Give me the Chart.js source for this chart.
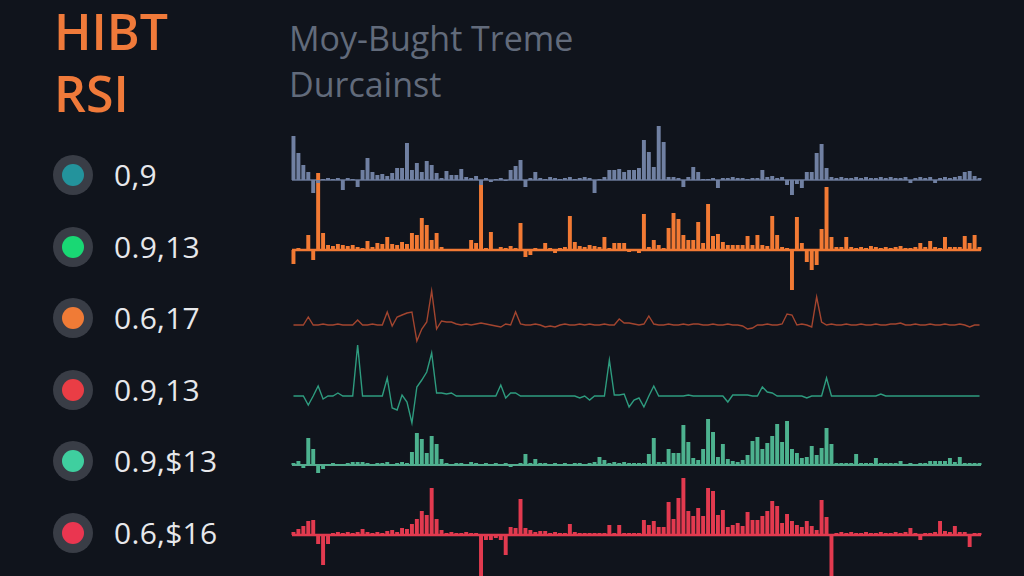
<!DOCTYPE html>
<html>
<head>
<meta charset="utf-8">
<script src="https://cdn.jsdelivr.net/npm/chart.js@4.4.1/dist/chart.umd.min.js"></script>
<style>
  html, body { margin:0; padding:0; width:1024px; height:576px; overflow:hidden; background:#10141c; font-family:"Open Sans","Noto Sans",sans-serif; }
  #title { position:absolute; left:54px; top:0px; color:#f07a3a; font-size:50px; font-weight:600; line-height:62px; white-space:pre; }
  #subtitle { position:absolute; left:289px; top:15px; color:#626b7b; font-size:34px; font-weight:400; line-height:46px; white-space:pre; }
  .lg { position:absolute; left:53px; height:40px; display:flex; align-items:center; }
  .ring { width:40px; height:40px; border-radius:50%; background:#393d46; display:flex; align-items:center; justify-content:center; }
  .dot { width:22px; height:22px; border-radius:50%; }
  .lgtext { margin-left:21px; color:#e7e8eb; font-size:30px; line-height:40px; letter-spacing:0.3px; }
  #chartBox { position:absolute; left:291px; top:105px; width:691px; height:471px; }
</style>
</head>
<body>
<div id="title"></div>
<div id="subtitle"></div>
<div id="legend"></div>
<div id="chartBox"><canvas id="c"></canvas></div>
<script>
// ---- text ----
const titleLines = ["HIBT", "RSI"];
const subtitleLines = ["Moy-Bught Treme", "Durcainst"];
const legendLabels = ["0,9", "0.9,13", "0.6,17", "0.9,13", "0.9,$13", "0.6,$16"];
const legendColors = ["#23939c", "#19d874", "#f07b36", "#ea3d45", "#3fcf9f", "#ea3650"];

// ---- data (one value per time step, 140 steps) ----
const steps = Array.from({length: 140}, (_, i) => String(i + 1));

const seriesSlate = [
  44,27,15,8,-13,-3,1,2,1,2,
  -10,2,1,-7,10,22,8,5,6,4,
  7,12,12,37,10,17,8,19,15,7,
  2,9,5,5,11,3,2,4,-5,2,
  -2,1,2,-1,10,14,20,-7,2,8,
  2,1,3,2,1,2,3,1,2,3,
  2,-13,1,3,10,10,11,8,10,10,
  12,40,28,13,54,38,3,3,2,-7,
  3,13,8,1,1,2,-8,2,2,3,
  2,2,1,2,2,10,3,4,2,3,
  -5,-15,-4,-8,8,8,27,36,12,3,
  2,3,2,2,3,2,3,2,2,3,
  2,3,2,2,3,-3,2,3,2,3,
  -3,2,3,2,3,4,8,9,4,2
];
const seriesOrange = [
  -14,2,1,15,-10,77,17,5,4,6,
  5,4,5,3,2,9,3,7,6,13,
  6,5,8,6,17,15,32,25,10,17,
  3,1,1,0,1,0,10,7,66,2,
  18,1,3,2,4,2,27,-7,-5,2,
  1,7,2,-3,2,3,34,8,4,3,
  5,4,3,13,2,7,7,7,-2,1,
  -3,36,3,10,5,2,22,37,31,15,
  10,10,28,7,46,14,16,8,5,5,
  5,5,14,5,15,5,4,34,15,3,
  2,-40,33,7,-12,-20,-15,21,63,13,
  3,3,13,3,2,3,2,4,3,2,
  3,2,3,4,2,2,3,7,3,9,
  3,2,13,3,3,3,14,7,15,3
];
const seriesRust = [
  0,0,0,8,0,0,1,0,0,1,
  0,0,0,5,0,0,1,0,0,13,
  -1,8,10,12,13,-16,-4,3,34,-4,
  4,3,3,1,0,1,0,1,2,1,
  0,-1,-2,1,0,13,1,0,0,1,
  0,-2,-1,-2,0,1,0,0,1,0,
  1,0,0,1,0,0,6,2,2,1,
  0,1,9,1,0,0,1,0,0,1,
  0,1,1,0,0,1,0,0,1,0,
  0,-1,-4,-3,0,0,1,0,0,1,
  11,10,0,1,0,-2,28,3,0,1,
  0,0,1,0,0,1,0,0,1,0,
  0,1,1,2,0,0,1,0,0,1,
  0,0,1,0,0,1,0,-2,0,0
];
const seriesTeal = [
  0,0,0,-9,0,10,-3,0,0,3,
  0,0,0,51,0,0,0,0,0,18,
  -12,-14,1,-6,-27,9,16,24,43,3,
  3,2,3,0,0,0,0,0,0,0,
  0,0,11,-2,3,3,0,0,0,0,
  0,0,0,0,0,0,0,0,-2,0,
  -4,0,0,0,36,1,1,2,-11,-4,
  -2,-11,0,10,0,0,0,0,0,0,
  1,0,0,0,0,0,0,0,-6,1,
  1,1,1,0,0,9,4,3,0,0,
  0,0,0,0,-2,0,0,0,18,0,
  0,0,0,0,0,0,0,0,0,2,
  0,0,0,0,0,0,0,0,0,0,
  0,0,0,0,0,0,0,0,0,0
];
const seriesMint = [
  2,4,-3,27,16,-8,-4,1,2,1,
  1,2,3,3,3,2,1,2,2,3,
  1,2,3,2,13,32,26,12,29,21,
  6,2,1,2,2,1,3,2,1,2,
  1,2,1,2,-2,1,2,11,2,6,
  2,2,1,2,1,2,1,2,2,1,
  2,3,8,5,2,3,2,3,2,2,
  2,2,11,27,3,3,16,12,12,40,
  23,7,5,16,46,33,8,21,6,4,
  3,5,10,24,28,16,22,29,41,23,
  44,16,12,7,8,19,10,17,37,21,
  2,2,2,2,11,2,2,2,7,2,
  2,2,2,4,1,2,1,2,2,4,
  4,4,4,7,3,8,2,2,2,2
];
const seriesRed = [
  3,6,9,14,15,-9,-30,-9,2,3,
  2,3,2,3,6,3,2,3,2,4,
  5,3,7,6,11,16,24,20,47,16,
  5,2,3,2,2,3,2,2,-41,-5,
  -5,-3,-5,-20,8,7,36,7,5,3,
  4,4,2,3,2,2,11,3,2,2,
  2,2,2,2,10,2,10,2,2,2,
  2,15,10,14,8,8,33,16,37,57,
  24,19,27,19,47,44,20,25,8,10,
  12,9,23,15,15,19,24,34,29,12,
  21,14,10,8,14,9,5,35,18,-41,
  2,3,2,3,2,2,3,2,2,3,
  2,2,3,2,3,7,2,-5,2,2,
  3,14,4,3,9,3,3,-12,2,2
];

// ---- text layout ----
document.getElementById('title').textContent = titleLines.join('\n');
document.getElementById('subtitle').textContent = subtitleLines.join('\n');
const lg = document.getElementById('legend');
legendLabels.forEach((lab, k) => {
  const row = document.createElement('div');
  row.className = 'lg';
  row.style.top = (155 + k * 71.6) + 'px';
  const ring = document.createElement('div'); ring.className = 'ring';
  const dot = document.createElement('div'); dot.className = 'dot'; dot.style.background = legendColors[k];
  ring.appendChild(dot);
  const t = document.createElement('div'); t.className = 'lgtext'; t.textContent = lab;
  row.appendChild(ring); row.appendChild(t);
  lg.appendChild(row);
});

// ---- chart ----
const baselinePlugin = {
  id: 'baselines',
  beforeDatasetsDraw(chart) {
    const {ctx, chartArea} = chart;
    chart.data.datasets.forEach((ds) => {
      if (!ds.baseWidth) return;
      const y = chart.scales[ds.yAxisID].getPixelForValue(0);
      ctx.save();
      ctx.strokeStyle = ds.baseColor || ds.backgroundColor;
      ctx.lineWidth = ds.baseWidth;
      ctx.beginPath();
      ctx.moveTo(chartArea.left + 1, y);
      ctx.lineTo(chartArea.right - 1, y);
      ctx.stroke();
      ctx.restore();
    });
  }
};

const barCommon = { type: 'bar', grouped: false, barPercentage: 0.8, categoryPercentage: 1, borderWidth: 0, clip: false };
const lineCommon = { type: 'line', pointRadius: 0, borderWidth: 1.4, tension: 0, fill: false, clip: false };

new Chart(document.getElementById('c'), {
  data: {
    labels: steps,
    datasets: [
      Object.assign({}, barCommon, { label: legendLabels[0], data: seriesSlate, backgroundColor: '#7080a2', yAxisID: 'y1', baseWidth: 1.5, baseColor: '#6a7898' }),
      Object.assign({}, barCommon, { label: legendLabels[1], data: seriesOrange, backgroundColor: '#f27a34', yAxisID: 'y2', baseWidth: 2.5 }),
      Object.assign({}, lineCommon, { label: legendLabels[2], data: seriesRust, borderColor: '#a3452f', yAxisID: 'y3' }),
      Object.assign({}, lineCommon, { label: legendLabels[3], data: seriesTeal, borderColor: '#2e9c7f', yAxisID: 'y4' }),
      Object.assign({}, barCommon, { label: legendLabels[4], data: seriesMint, backgroundColor: '#4db28f', yAxisID: 'y5', baseWidth: 2, baseColor: '#5aa890' }),
      Object.assign({}, barCommon, { label: legendLabels[5], data: seriesRed, backgroundColor: '#e23a4f', yAxisID: 'y6', baseWidth: 2.5 })
    ]
  },
  options: {
    responsive: true,
    maintainAspectRatio: false,
    animation: false,
    layout: { padding: 0 },
    plugins: { legend: { display: false }, tooltip: { enabled: false } },
    scales: {
      x:  { type: 'category', display: false, offset: true },
      y1: { display: false, min: -396, max: 75 },
      y2: { display: false, min: -326, max: 145 },
      y3: { display: false, min: -251, max: 220 },
      y4: { display: false, min: -180, max: 291 },
      y5: { display: false, min: -111, max: 360 },
      y6: { display: false, min: -41,  max: 430 }
    }
  },
  plugins: [baselinePlugin]
});
</script>
</body>
</html>
